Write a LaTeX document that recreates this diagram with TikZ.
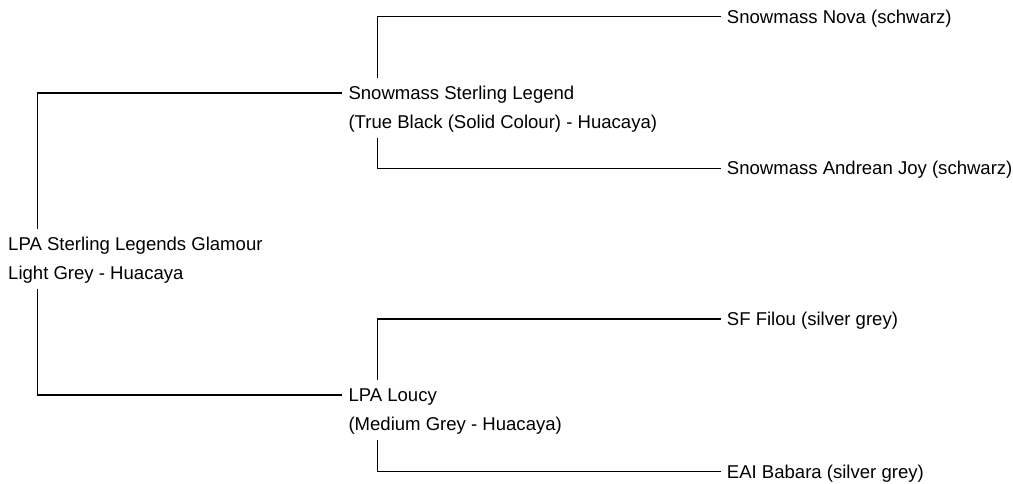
\documentclass[tikz,border=0pt]{standalone}
\usepackage{fontspec}
\setmainfont{Liberation Sans}
\begin{document}
\begin{tikzpicture}[x={(1pt,0)},y={(0,-1pt)},
  lbl/.style={anchor=west,inner sep=0pt,text height=13.3pt,text depth=0pt,font=\fontsize{18.55}{22}\selectfont},
  conn/.style={line width=1.2pt,black}]
\useasboundingbox (0,0) rectangle (1013,484);
\node[lbl] (root1) at (8,244) {LPA Sterling Legends Glamour};
\node[lbl] (root2) at (8,273) {Light Grey - Huacaya};
\node[lbl] (ssl1) at (348.3,93) {Snowmass Sterling Legend};
\node[lbl] (ssl2) at (348.3,122) {(True Black (Solid Colour) - Huacaya)};
\node[lbl] (lou1) at (348.3,395) {LPA Loucy};
\node[lbl] (lou2) at (348.3,424) {(Medium Grey - Huacaya)};
\node[lbl] (nova) at (726.7,16.5) {Snowmass Nova (schwarz)};
\node[lbl] (joy) at (726.7,168.3) {Snowmass Andrean Joy (schwarz)};
\node[lbl] (filou) at (726.7,319) {SF Filou (silver grey)};
\node[lbl] (bab) at (726.7,471.5) {EAI Babara (silver grey)};
\draw[conn] ([xshift=29.5pt,yshift=8.5pt]root1.north west) |- ([xshift=-6pt]ssl1.west);
\draw[conn] ([xshift=29.5pt,yshift=-9pt]root2.south west) |- ([xshift=-6pt]lou1.west);
\draw[conn] ([xshift=29.5pt,yshift=8.5pt]ssl1.north west) |- ([xshift=-6pt]nova.west);
\draw[conn] ([xshift=29.5pt,yshift=-9pt]ssl2.south west) |- ([xshift=-6pt]joy.west);
\draw[conn] ([xshift=29.5pt,yshift=8.5pt]lou1.north west) |- ([xshift=-6pt]filou.west);
\draw[conn] ([xshift=29.5pt,yshift=-9pt]lou2.south west) |- ([xshift=-6pt]bab.west);
\end{tikzpicture}
\end{document}
